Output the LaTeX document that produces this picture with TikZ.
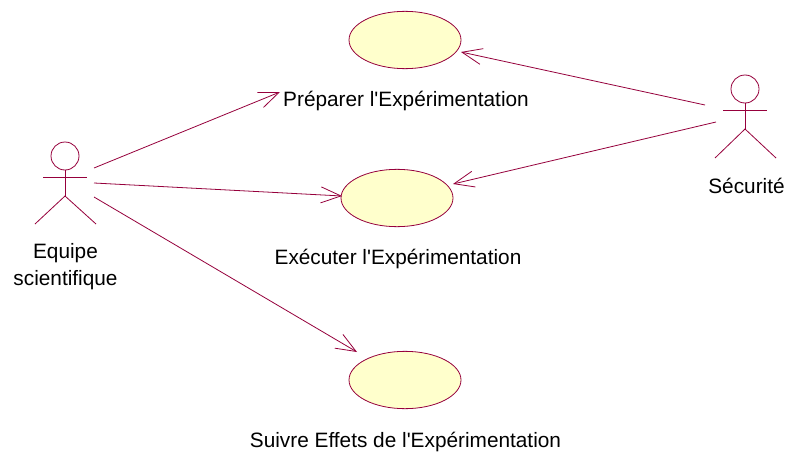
\documentclass[tikz,border=0pt]{standalone}
\usepackage{fontspec}
\newfontfamily\lblfont{Liberation Sans}
\usetikzlibrary{shapes.geometric,arrows.meta}
\definecolor{umlline}{RGB}{150,0,60}
\definecolor{umlfill}{RGB}{255,255,204}
\tikzset{
 px/.style={x=0.75pt,y=-0.75pt},
 usecase/.style={ellipse,draw=umlline,fill=umlfill,line width=0.6pt,minimum width=84pt,minimum height=43pt,inner sep=0pt},
 lbl/.style={font=\lblfont\fontsize{15.6}{20.2}\selectfont,text=black,align=center,inner sep=0pt},
 assoc/.style={draw=umlline,line width=0.6pt,-{Straight Barb[length=15pt,width=12pt,line width=0.6pt]}},
 limb/.style={draw=umlline,line width=0.6pt},
 actorhead/.style={circle,draw=umlline,line width=0.6pt,minimum size=21pt,inner sep=0pt}
}
\begin{document}
\begin{tikzpicture}[px]
\useasboundingbox (0,0) rectangle (787,453);
\fill[white] (0,0) rectangle (787,453);
\node[usecase] (uc1) at (405,40) {};
\node[usecase] (uc2) at (397,198) {};
\node[usecase] (uc3) at (405,380) {};
\node[lbl] (t1) at (406,101) {Préparer l'Expérimentation};
\node[lbl] (t2) at (398,258.5) {Exécuter l'Expérimentation};
\node[lbl] (t3) at (405.5,441.5) {Suivre Effets de l'Expérimentation};
\node[actorhead] (h1) at (65,156) {};
\coordinate (c1) at (65,196);
\draw[limb] (h1.south) -- (c1);
\coordinate (al) at (43,177); \coordinate (ar) at (87,177);
\draw[limb] (al) -- (ar);
\coordinate (ll) at (35,224); \coordinate (lr) at (96,224);
\draw[limb] (ll) -- (c1) -- (lr);
\node[lbl] (a1) at (65.5,266.5) {Equipe\\scientifique};
\node[actorhead] (h2) at (745,89) {};
\coordinate (c2) at (745,129);
\draw[limb] (h2.south) -- (c2);
\coordinate (bl) at (723,110); \coordinate (br) at (767,110);
\draw[limb] (bl) -- (br);
\coordinate (ml) at (715,158); \coordinate (mr) at (776,158);
\draw[limb] (ml) -- (c2) -- (mr);
\node[lbl] (a2) at (746.5,186) {Sécurité};
\coordinate (s1) at (94,168); \coordinate (e1) at (280,92);
\coordinate (s2) at (94,183); \coordinate (e2) at (342,196);
\coordinate (s3) at (94,197); \coordinate (e3) at (357,352);
\coordinate (s4) at (705,105); \coordinate (e4) at (461,52);
\coordinate (s5) at (716,122); \coordinate (e5) at (453,184);
\draw[assoc] (s1) -- (e1);
\draw[assoc] (s2) -- (e2);
\draw[assoc] (s3) -- (e3);
\draw[assoc] (s4) -- (e4);
\draw[assoc] (s5) -- (e5);
\end{tikzpicture}
\end{document}
